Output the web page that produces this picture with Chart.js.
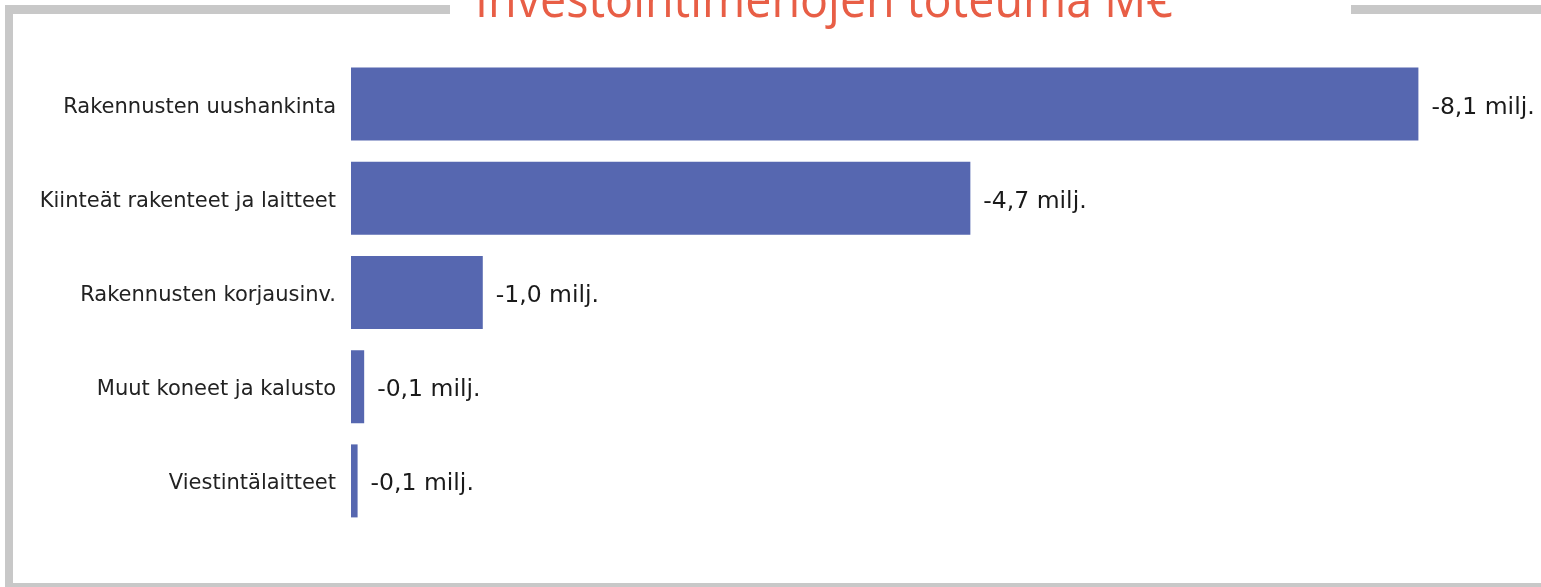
<!DOCTYPE html>
<html>
<head>
<meta charset="utf-8">
<script src="https://cdn.jsdelivr.net/npm/chart.js@4/dist/chart.umd.min.js"></script>
<style>
  html, body { margin: 0; padding: 0; background: #ffffff; overflow: hidden; }
  #wrap { position: relative; width: 1541px; height: 587px; }
</style>
</head>
<body>
<div id="wrap"><canvas id="c" width="1541" height="587"></canvas></div>
<script>
const titleText = 'Investointimenojen toteuma M€';
const categories = [
  'Rakennusten uushankinta',
  'Kiinteät rakenteet ja laitteet',
  'Rakennusten korjausinv.',
  'Muut koneet ja kalusto',
  'Viestintälaitteet'
];
const values = [8.1, 4.7, 1.0, 0.1, 0.05];
const valueLabels = ['-8,1 milj.', '-4,7 milj.', '-1,0 milj.', '-0,1 milj.', '-0,1 milj.'];

const frameAndTitle = {
  id: 'frameAndTitle',
  beforeDraw(chart) {
    const ctx = chart.ctx;
    ctx.save();
    ctx.fillStyle = '#c8c8c8';
    ctx.fillRect(5, 5, 8, 582);      // left border
    ctx.fillRect(5, 583, 1536, 4);   // bottom border
    ctx.fillRect(5, 5, 445, 9);      // top border left part
    ctx.fillRect(1351, 5, 190, 9);   // top border right part
    ctx.restore();
  },
  afterDraw(chart) {
    const ctx = chart.ctx;
    ctx.save();
    ctx.fillStyle = '#e85e46';
    ctx.font = '400 52px "Open Sans"';
    ctx.textAlign = 'left';
    ctx.textBaseline = 'alphabetic';
    ctx.fillText(titleText, 475, 17, 698);
    ctx.restore();
  }
};

const valueLabelPlugin = {
  id: 'valueLabelPlugin',
  afterDatasetsDraw(chart) {
    const ctx = chart.ctx;
    const meta = chart.getDatasetMeta(0);
    ctx.save();
    ctx.fillStyle = '#1a1a1a';
    ctx.font = '23.5px "DejaVu Sans"';
    ctx.textAlign = 'left';
    ctx.textBaseline = 'alphabetic';
    meta.data.forEach((bar, i) => {
      ctx.fillText(valueLabels[i], bar.x + 13, bar.y + 9.5);
    });
    ctx.restore();
  }
};

new Chart(document.getElementById('c'), {
  type: 'bar',
  data: {
    labels: categories,
    datasets: [{
      data: values,
      backgroundColor: '#5667b0',
      borderWidth: 0,
      barPercentage: 0.775,
      categoryPercentage: 1.0
    }]
  },
  options: {
    indexAxis: 'y',
    responsive: false,
    animation: false,
    devicePixelRatio: 1,
    layout: { padding: { left: 0, right: 4, top: 57, bottom: 59 } },
    plugins: {
      legend: { display: false },
      title: { display: false },
      tooltip: { enabled: false }
    },
    scales: {
      x: {
        display: false,
        min: 0,
        max: 9
      },
      y: {
        grid: { display: false, drawTicks: false },
        border: { display: false },
        ticks: {
          color: '#222222',
          font: { family: '"DejaVu Sans"', size: 21 },
          padding: 15,
          labelOffset: 3
        },
        afterFit(scale) { scale.width = 351; }
      }
    }
  },
  plugins: [frameAndTitle, valueLabelPlugin]
});
</script>
</body>
</html>
